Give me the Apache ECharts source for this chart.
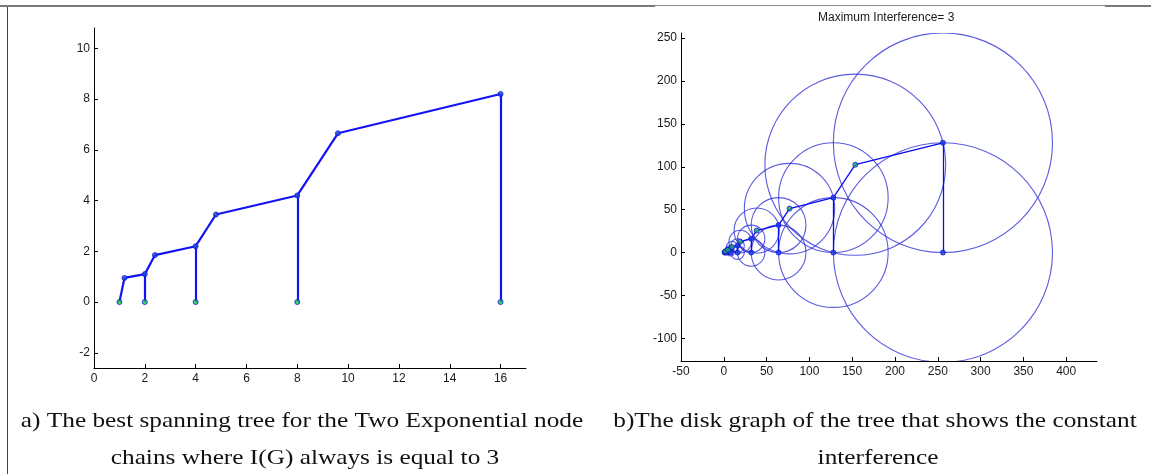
<!DOCTYPE html>
<html>
<head>
<meta charset="utf-8">
<script src="https://cdn.jsdelivr.net/npm/echarts@6/dist/echarts.min.js"></script>
<style>
html,body{margin:0;padding:0;background:#fff;}
#main{width:1151px;height:474px;}
</style>
</head>
<body>
<div id="main"></div>
<script>
// a) spanning tree, two exponential node chains
var treeChainX = [1, 1.2, 2, 2.4, 4, 4.8, 8, 9.6, 16];
var treeChainY = [0, 0.95, 1.1, 1.85, 2.2, 3.45, 4.2, 6.65, 8.2];
var treeStemX = [2, 4, 8, 16];
var treeStemTop = [1.1, 2.2, 4.2, 8.2];
var treeBaseX = [1, 2, 4, 8, 16];
var treeXTicks = [0, 2, 4, 6, 8, 10, 12, 14, 16];
var treeYTicks = [-2, 0, 2, 4, 6, 8, 10];

// b) disk graph of the same tree (bigger chains)
var diskChainX = [1, 1.2, 2, 2.4, 4, 4.8, 8, 9.6, 16, 19.2, 32, 38.4, 64, 76.8, 128, 153.6, 256];
var diskChainY = [0, 0.8, 1, 1.6, 2, 3.2, 4, 6.4, 8, 12.8, 16, 25.6, 32, 51.2, 64, 102.4, 128];
var diskStemX = [2, 4, 8, 16, 32, 64, 128, 256];
var diskStemTop = [1, 2, 4, 8, 16, 32, 64, 128];
var diskMidX = [1.2, 2.4, 4.8, 9.6, 19.2, 38.4, 76.8, 153.6];
var diskMidY = [0.8, 1.6, 3.2, 6.4, 12.8, 25.6, 51.2, 102.4];
// circle centres + radius (distance to farthest neighbour)
var circleX = [1, 1.2, 2, 2, 2.4, 4, 4, 4.8, 8, 8, 9.6, 16, 16, 19.2, 32, 32, 38.4, 64, 64, 76.8, 128, 128, 153.6, 256, 256];
var circleY = [0, 0.8, 1, 0, 1.6, 2, 0, 3.2, 4, 0, 6.4, 8, 0, 12.8, 16, 0, 25.6, 32, 0, 51.2, 64, 0, 102.4, 128, 0];
var circleR = [0.82, 0.82, 1, 1, 1.65, 2, 2, 3.3, 4, 4, 6.6, 8, 8, 13.2, 16, 16, 26.4, 32, 32, 52.8, 64, 64, 105.6, 128, 128];
var diskXTicks = [-50, 0, 50, 100, 150, 200, 250, 300, 350, 400];
var diskYTicks = [-100, -50, 0, 50, 100, 150, 200, 250];

var axisFont = 'Liberation Sans';
var serif = 'Liberation Serif';

function pts(xs, ys) {
    var out = [];
    for (var i = 0; i < xs.length; i++) out.push([xs[i], ys[i]]);
    return out;
}
function chainSegs(xs, ys) {
    var out = [];
    for (var i = 0; i < xs.length - 1; i++) {
        out.push({coords: [[xs[i], ys[i]], [xs[i + 1], ys[i + 1]]]});
    }
    return out;
}
function stemSegs(xs, tops) {
    var out = [];
    for (var i = 0; i < xs.length; i++) out.push({coords: [[xs[i], 0], [xs[i], tops[i]]]});
    return out;
}

function valAxis(idx, min, max, ticks, isY) {
    return {
        type: 'value', gridIndex: idx, min: min, max: max,
        splitLine: {show: false},
        axisLine: {onZero: false, lineStyle: {color: '#000', width: 1}},
        axisTick: {inside: true, length: 4, customValues: ticks, lineStyle: {color: '#000'}},
        axisLabel: {customValues: ticks, margin: isY ? 4 : 5, color: '#1a1a1a',
            fontFamily: axisFont, fontSize: 12}
    };
}

// caption line, stretched a bit to the LaTeX width
function caption(x, y, txt) {
    return {type: 'text', x: x, y: y, scaleX: 1.15, style: {text: txt,
        fontFamily: serif, fontSize: 22, fill: '#111', align: 'center', verticalAlign: 'middle'}};
}

var myChart = echarts.init(document.getElementById('main'));

var option = {
    animation: false,
    backgroundColor: '#fff',
    title: {
        text: 'Maximum Interference= 3',
        left: 818, top: 12, padding: 0,
        textStyle: {fontFamily: axisFont, fontSize: 12, fontWeight: 'normal', color: '#1a1a1a'}
    },
    grid: [
        {left: 94, top: 28, width: 432, height: 340},
        {left: 681, top: 33, width: 416, height: 328}
    ],
    xAxis: [
        valAxis(0, 0, 17, treeXTicks, false),
        valAxis(1, -50, 436, diskXTicks, false)
    ],
    yAxis: [
        valAxis(0, -2.6, 10.8, treeYTicks, true),
        valAxis(1, -126.5, 256, diskYTicks, true)
    ],
    series: [
        {
            type: 'lines', coordinateSystem: 'cartesian2d', xAxisIndex: 0, yAxisIndex: 0,
            lineStyle: {color: '#1212f5', width: 2.2, opacity: 1}, silent: true,
            data: chainSegs(treeChainX, treeChainY).concat(stemSegs(treeStemX, treeStemTop))
        },
        {
            type: 'scatter', xAxisIndex: 0, yAxisIndex: 0, symbolSize: 5, silent: true,
            itemStyle: {color: '#1a4fd0', borderColor: '#1515e0', borderWidth: 1},
            data: pts(treeChainX.slice(1), treeChainY.slice(1))
        },
        {
            type: 'scatter', xAxisIndex: 0, yAxisIndex: 0, symbolSize: 5, silent: true,
            itemStyle: {color: '#10d040', borderColor: '#1515e0', borderWidth: 1},
            data: pts(treeBaseX, treeBaseX.map(function () { return 0; }))
        },
        // disks
        {
            type: 'custom', xAxisIndex: 1, yAxisIndex: 1, clip: true, silent: true,
            data: circleX.map(function (x, i) { return [x, circleY[i], circleR[i]]; }),
            renderItem: function (params, api) {
                var c = api.coord([api.value(0), api.value(1)]);
                var s = api.size([api.value(2), api.value(2)]);
                return {
                    type: 'ellipse',
                    shape: {cx: c[0], cy: c[1], rx: s[0], ry: s[1]},
                    style: {fill: 'none', stroke: 'rgba(50,50,215,0.8)', lineWidth: 1.1}
                };
            }
        },
        {
            type: 'lines', coordinateSystem: 'cartesian2d', xAxisIndex: 1, yAxisIndex: 1,
            lineStyle: {color: '#0a0af0', width: 1.3, opacity: 1}, silent: true,
            data: chainSegs(diskChainX, diskChainY).concat(stemSegs(diskStemX, diskStemTop))
        },
        {
            type: 'scatter', xAxisIndex: 1, yAxisIndex: 1, symbolSize: 5, silent: true,
            itemStyle: {color: '#1a3fe0', borderColor: '#1010e0', borderWidth: 1},
            data: pts(diskStemX, diskStemTop).concat(pts(diskStemX, diskStemX.map(function () { return 0; }))).concat([[1, 0]])
        },
        {
            type: 'scatter', xAxisIndex: 1, yAxisIndex: 1, symbolSize: 5, silent: true,
            itemStyle: {color: '#18b060', borderColor: '#1515e0', borderWidth: 1},
            data: pts(diskMidX, diskMidY)
        }
    ],
    graphic: [
        // table rules
        {type: 'line', shape: {x1: 0, y1: 6, x2: 655, y2: 6}, style: {stroke: '#7a7a7a', lineWidth: 2}},
        {type: 'line', shape: {x1: 655, y1: 5.5, x2: 1105, y2: 5.5}, style: {stroke: '#8a8a8a', lineWidth: 1}},
        {type: 'line', shape: {x1: 1105, y1: 6, x2: 1151, y2: 6}, style: {stroke: '#7a7a7a', lineWidth: 2}},
        {type: 'line', shape: {x1: 7.5, y1: 7, x2: 7.5, y2: 474}, style: {stroke: '#444', lineWidth: 1}},
        // captions
        caption(302, 421, 'a) The best spanning tree for the Two Exponential node'),
        caption(305, 458, 'chains where I(G) always is equal to 3'),
        caption(875, 421, 'b)The disk graph of the tree that shows the constant'),
        caption(878, 458, 'interference')
    ]
};

myChart.setOption(option);
</script>
</body>
</html>
